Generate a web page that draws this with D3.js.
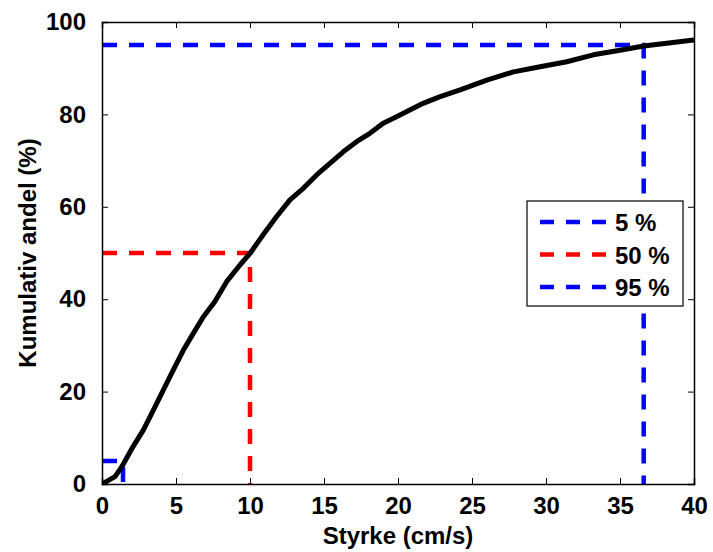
<!DOCTYPE html>
<html>
<head>
<meta charset="utf-8">
<script src="https://cdn.jsdelivr.net/npm/d3@7"></script>
<style>
  body { margin: 0; background: #fff; }
  text { font-family: "Liberation Sans", Arial, sans-serif; font-weight: bold; }
</style>
</head>
<body>
<div id="chart"></div>
<script>
// cumulative distribution
const speed = [0, 0.88, 1.33, 2.1, 2.8, 3.47, 4.14, 4.82, 5.5, 6.17, 6.85, 7.63, 8.42, 9.32, 10.0,
  10.9, 11.8, 12.7, 13.6, 14.5, 15.4, 16.3, 17.2, 18.1, 19.0, 19.9, 20.8, 21.7, 22.8,
  24.2, 26.0, 27.8, 29.6, 31.4, 33.2, 35.0, 36.6, 38.15, 40];
const share = [0, 1.6, 3.7, 8.1, 11.7, 16.0, 20.3, 24.7, 29.0, 32.6, 36.2, 39.5, 43.8, 47.4, 49.9,
  54.0, 57.9, 61.5, 64.0, 66.9, 69.4, 71.9, 74.1, 75.9, 78.1, 79.5, 80.95, 82.4, 83.8,
  85.3, 87.4, 89.2, 90.3, 91.4, 92.9, 93.9, 94.8, 95.4, 96.1];

// percentile markers
const pctLabels = ['5 %', '50 %', '95 %'];
const pctValues = [5, 50, 95];
const pctSpeeds = [1.42, 10.0, 36.6];
const pctColors = ['#0000ff', '#ff0000', '#0000ff'];

const xTicks = [0, 5, 10, 15, 20, 25, 30, 35, 40];
const yTicks = [0, 20, 40, 60, 80, 100];

const W = 713, H = 552;
const margin = {left: 102, top: 22, right: 19, bottom: 68};
const w = W - margin.left - margin.right;
const h = H - margin.top - margin.bottom;

const svg = d3.select('#chart').append('svg')
  .attr('width', W)
  .attr('height', H);

const g = svg.append('g')
  .attr('transform', `translate(${margin.left},${margin.top})`);

const x = d3.scaleLinear().domain([0, 40]).range([0, w]);
const y = d3.scaleLinear().domain([0, 100]).range([h, 0]);

g.append('defs').append('clipPath').attr('id', 'clip')
  .append('rect').attr('width', w).attr('height', h);

// percentile guide lines: (0,p) -> (s,p) -> (s,0)
g.append('g').attr('clip-path', 'url(#clip)')
  .selectAll('path')
  .data(pctValues)
  .enter()
  .append('path')
  .attr('d', (d, i) => d3.line()([[x(0), y(d)], [x(pctSpeeds[i]), y(d)], [x(pctSpeeds[i]), y(0)]]))
  .attr('fill', 'none')
  .attr('stroke', (d, i) => pctColors[i])
  .attr('stroke-width', 4.5)
  .attr('stroke-dasharray', '15,12');

// the curve
const pts = speed.map((s, i) => [s, share[i]]);
g.append('path')
  .attr('clip-path', 'url(#clip)')
  .attr('d', d3.line().x(d => x(d[0])).y(d => y(d[1]))(pts))
  .attr('fill', 'none')
  .attr('stroke', '#000')
  .attr('stroke-width', 5)
  .attr('stroke-linejoin', 'round');

// axes, MATLAB style box with inward ticks
const fs = 24;
g.append('g').attr('transform', `translate(0,${h})`)
  .call(d3.axisBottom(x).tickValues(xTicks).tickSize(-6).tickPadding(13).tickFormat(d3.format('d')));
g.append('g')
  .call(d3.axisLeft(y).tickValues(yTicks).tickSize(-6).tickPadding(16).tickFormat(d3.format('d')));
g.append('g').call(d3.axisTop(x).tickValues(xTicks).tickSize(-6).tickFormat(''));
g.append('g').attr('transform', `translate(${w},0)`)
  .call(d3.axisRight(y).tickValues(yTicks).tickSize(-6).tickFormat(''));

g.selectAll('.domain').attr('stroke', '#000').attr('stroke-width', 1.5);
g.selectAll('.tick line').attr('stroke', '#000').attr('stroke-width', 1);
g.selectAll('.tick text')
  .attr('fill', '#000')
  .style('font-size', fs + 'px')
  .style('font-family', '"Liberation Sans", Arial, sans-serif')
  .style('font-weight', 'bold');

// axis labels
svg.append('text')
  .attr('x', margin.left + w / 2)
  .attr('y', 544)
  .attr('text-anchor', 'middle')
  .style('font-size', fs + 'px')
  .text('Styrke (cm/s)');

svg.append('text')
  .attr('transform', `translate(36,${margin.top + h / 2}) rotate(-90)`)
  .attr('text-anchor', 'middle')
  .style('font-size', fs + 'px')
  .text('Kumulativ andel (%)');

// legend
const leg = svg.append('g').attr('transform', 'translate(527,201)');
leg.append('rect')
  .attr('width', 156)
  .attr('height', 105)
  .attr('fill', '#fff')
  .attr('stroke', '#000')
  .attr('stroke-width', 1.2);

const rows = leg.selectAll('g.row')
  .data(pctLabels)
  .enter()
  .append('g')
  .attr('class', 'row')
  .attr('transform', (d, i) => `translate(0,${21 + i * 32.5})`);

rows.append('line')
  .attr('x1', 13).attr('x2', 80)
  .attr('stroke', (d, i) => pctColors[i])
  .attr('stroke-width', 4.5)
  .attr('stroke-dasharray', '14,12');

rows.append('text')
  .attr('x', 88)
  .attr('y', 9)
  .style('font-size', fs + 'px')
  .text(d => d);
</script>
</body>
</html>
